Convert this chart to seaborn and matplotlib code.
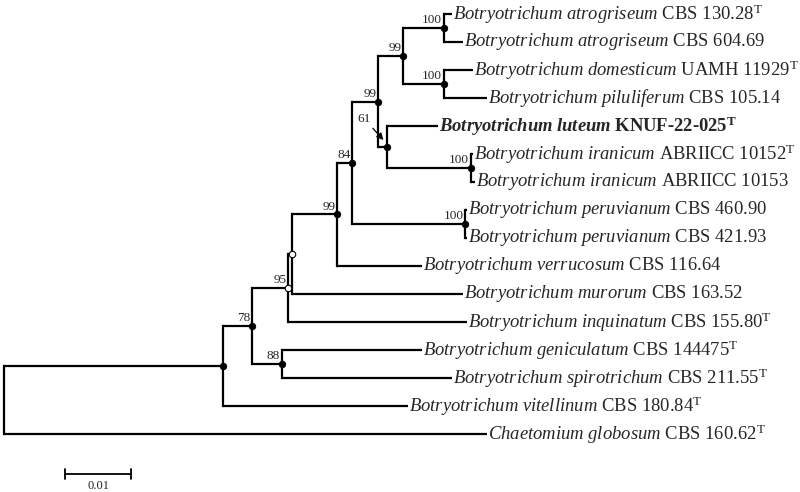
import numpy as np
import pandas as pd
import seaborn as sns
import matplotlib.pyplot as plt

sns.set_theme(style="white")
plt.rcParams["font.family"] = ["Liberation Serif", "DejaVu Serif"]
plt.rcParams["mathtext.fontset"] = "custom"
plt.rcParams["mathtext.rm"] = "Liberation Serif"
plt.rcParams["mathtext.it"] = "Liberation Serif:italic"
plt.rcParams["mathtext.bf"] = "Liberation Serif:bold"
plt.rcParams["mathtext.bfit"] = "Liberation Serif:italic:bold"

# tree: node name, parent, branch length (substitutions/site)
nodes = ["root", "A", "chae", "vite", "B", "C", "geni", "spir", "D", "inqu", "E", "muro",
         "F", "verr", "G", "H", "per1", "per2", "I", "J", "lute", "K", "ira1", "ira2",
         "L", "M", "atr1", "atr2", "N", "dome", "pilu"]
parents = [None, "root", "root", "A", "A", "B", "C", "C", "B", "D", "D", "E",
           "E", "F", "F", "G", "H", "H", "G", "I", "J", "J", "K", "K",
           "I", "L", "M", "M", "L", "N", "N"]
branch_len = [0, 0.0332, 0.0732, 0.0280, 0.0044, 0.0045, 0.0212, 0.0258, 0.0055, 0.0271, 0.0006, 0.0259,
              0.0068, 0.0129, 0.0023, 0.0171, 0.0002, 0.0002, 0.0039, 0.0014, 0.0076, 0.0127, 0.0003, 0.0006,
              0.0038, 0.0062, 0.0012, 0.0029, 0.0062, 0.0044, 0.0065]

# leaves top to bottom
leaf_order = ["atr1", "atr2", "dome", "pilu", "lute", "ira1", "ira2", "per1", "per2",
              "verr", "muro", "inqu", "geni", "spir", "vite", "chae"]
leaf_labels = [
    r"$\mathit{Botryotrichum\ atrogriseum}$ CBS 130.28$^{\mathrm{T}}$",
    r"$\mathit{Botryotrichum\ atrogriseum}$ CBS 604.69",
    r"$\mathit{Botryotrichum\ domesticum}$ UAMH 11929$^{\mathrm{T}}$",
    r"$\mathit{Botryotrichum\ piluliferum}$ CBS 105.14",
    r"$\mathbfit{Botryotrichum\ luteum}$ KNUF-22-025$^{\mathbf{T}}$",
    r"$\mathit{Botryotrichum\ iranicum}$ ABRIICC 10152$^{\mathrm{T}}$",
    r"$\mathit{Botryotrichum\ iranicum}$ ABRIICC 10153",
    r"$\mathit{Botryotrichum\ peruvianum}$ CBS 460.90",
    r"$\mathit{Botryotrichum\ peruvianum}$ CBS 421.93",
    r"$\mathit{Botryotrichum\ verrucosum}$ CBS 116.64",
    r"$\mathit{Botryotrichum\ murorum}$ CBS 163.52",
    r"$\mathit{Botryotrichum\ inquinatum}$ CBS 155.80$^{\mathrm{T}}$",
    r"$\mathit{Botryotrichum\ geniculatum}$ CBS 144475$^{\mathrm{T}}$",
    r"$\mathit{Botryotrichum\ spirotrichum}$ CBS 211.55$^{\mathrm{T}}$",
    r"$\mathit{Botryotrichum\ vitellinum}$ CBS 180.84$^{\mathrm{T}}$",
    r"$\mathit{Chaetomium\ globosum}$ CBS 160.62$^{\mathrm{T}}$",
]

# bootstrap support per internal node (None = open circle, no value shown)
support_nodes = ["A", "B", "C", "D", "E", "F", "G", "H", "I", "J", "K", "L", "M", "N"]
support_vals = [None, 78, 88, 95, None, 99, 84, 100, 99, 61, 100, 99, 100, 100]
open_nodes = ["D", "E"]

tree = pd.DataFrame({"node": nodes, "parent": parents, "blen": branch_len}).set_index("node")
children = {n: [] for n in nodes}
for n, p in zip(nodes, parents):
    if p is not None:
        children[p].append(n)

# x = distance from root, y = leaf index / mean of children
xpos, ypos = {}, {}
def place_x(n, x0):
    xpos[n] = x0 + tree.loc[n, "blen"]
    for c in children[n]:
        place_x(c, xpos[n])
place_x("root", 0.0)
for i, leaf in enumerate(leaf_order):
    ypos[leaf] = i
def place_y(n):
    if n in ypos:
        return ypos[n]
    ys = [place_y(c) for c in children[n]]
    ypos[n] = (min(ys) + max(ys)) / 2
    return ypos[n]
place_y("root")

fig = plt.figure(figsize=(8, 4.92), dpi=100)
ax = fig.add_axes([0, 0, 1, 1])
px = 6600.0  # pixels per unit
ax.set_xlim(-4 / px, 796 / px)
ax.set_ylim((492 - 14) / 28, -14 / 28)
ax.axis("off")

lw = 1.6
for n in nodes:
    p = tree.loc[n, "parent"]
    if p is None:
        continue
    ax.plot([xpos[p], xpos[n]], [ypos[n], ypos[n]], color="black", lw=lw, solid_capstyle="butt")
    kids = children[n]
    if kids:
        ys = [ypos[c] for c in kids]
        ax.plot([xpos[n], xpos[n]], [min(ys), max(ys)], color="black", lw=lw, solid_capstyle="projecting")
ys = [ypos[c] for c in children["root"]]
ax.plot([xpos["root"], xpos["root"]], [min(ys), max(ys)], color="black", lw=lw, solid_capstyle="projecting")

# node markers
mk = pd.DataFrame({"x": [xpos[n] for n in support_nodes],
                   "y": [ypos[n] for n in support_nodes],
                   "kind": ["open" if n in open_nodes else "filled" for n in support_nodes]})
sns.scatterplot(data=mk[mk.kind == "filled"], x="x", y="y", color="black", s=22,
                edgecolor="black", linewidth=0.6, ax=ax, zorder=5, legend=False)
sns.scatterplot(data=mk[mk.kind == "open"], x="x", y="y", color="white", s=22,
                edgecolor="black", linewidth=0.8, ax=ax, zorder=5, legend=False)
ax.set_xlabel("")
ax.set_ylabel("")

# bootstrap values
for n, v in zip(support_nodes, support_vals):
    if v is None:
        continue
    if n == "J":
        # short branch: value with a pointer arrow
        ax.annotate(str(v), xy=(xpos[n] - 4 / px, ypos[n] - 0.25),
                    xytext=(xpos[n] - 23 / px, ypos[n] - 1.0),
                    fontsize=9.5, ha="center", va="center",
                    arrowprops=dict(arrowstyle="-|>", color="black", lw=0.9,
                                    mutation_scale=10, shrinkA=0, shrinkB=0))
        continue
    ax.text(xpos[n] - 2 / px, ypos[n] - 0.06, str(v), fontsize=9.5, ha="right", va="bottom")

# leaf labels
for leaf, lab in zip(leaf_order, leaf_labels):
    bold = leaf == "lute"
    ax.text(xpos[leaf] + 1 / px, ypos[leaf], lab, fontsize=13.4, ha="left", va="center",
            fontweight="bold" if bold else "normal")

# scale bar
sb_x0 = 61 / px
sb_y = (474 - 14) / 28
ax.plot([sb_x0, sb_x0 + 0.01], [sb_y, sb_y], color="black", lw=1.3)
for xx in [sb_x0, sb_x0 + 0.01]:
    ax.plot([xx, xx], [sb_y - 0.17, sb_y + 0.17], color="black", lw=1.3)
ax.text(sb_x0 + 0.005, sb_y + 0.2, "0.01", fontsize=9, ha="center", va="top")

fig.savefig("out.png", dpi=100, facecolor="white")
